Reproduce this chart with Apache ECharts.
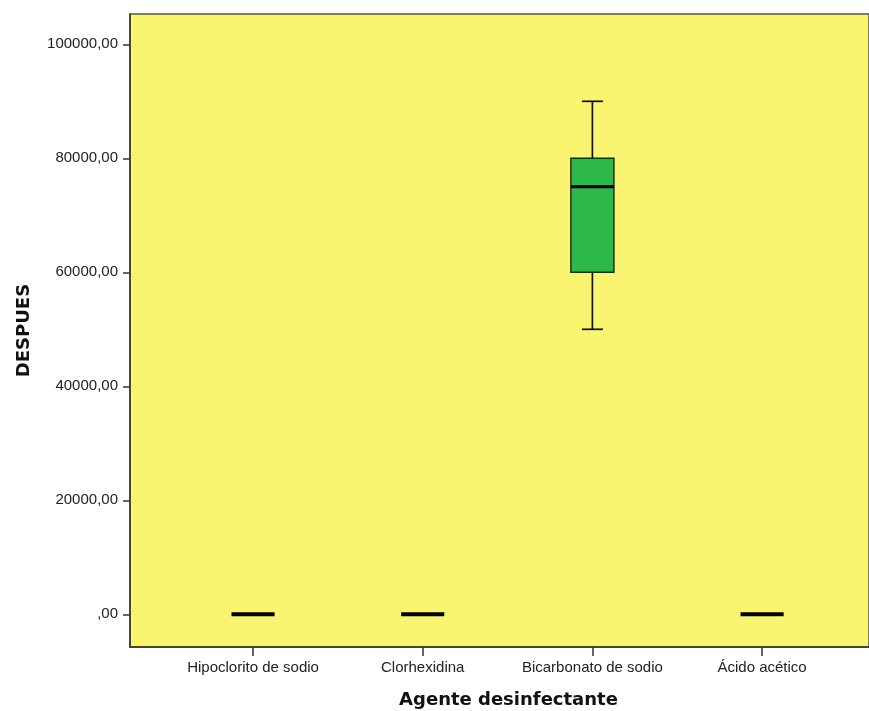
<!DOCTYPE html>
<html>
<head>
<meta charset="utf-8">
<script src="https://cdn.jsdelivr.net/npm/echarts@6/dist/echarts.min.js"></script>
<style>html,body{margin:0;padding:0;background:#fff}#c{width:869px;height:711px}</style>
</head>
<body>
<div id="c"></div>
<script>
// Categories (x axis)
const categories = ['Hipoclorito de sodio', 'Clorhexidina', 'Bicarbonato de sodio', 'Ácido acético'];
// Box statistics per category
const lowWhisker  = [0, 0, 50000, 0];
const q1Values    = [0, 0, 60000, 0];
const medians     = [0, 0, 75000, 0];
const q3Values    = [0, 0, 80000, 0];
const highWhisker = [0, 0, 90000, 0];
// Y axis tick values
const yTicks = [0, 20000, 40000, 60000, 80000, 100000];

const boxData = categories.map((c, i) => [i, lowWhisker[i], q1Values[i], medians[i], q3Values[i], highWhisker[i]]);

function renderBox(params, api) {
  const x = api.value(0);
  const band = api.size([1, 0])[0];
  const boxHalf = band * 0.127;
  const capHalf = band * 0.062;
  const pLow = api.coord([x, api.value(1)]);
  const pQ1 = api.coord([x, api.value(2)]);
  const pMed = api.coord([x, api.value(3)]);
  const pQ3 = api.coord([x, api.value(4)]);
  const pHigh = api.coord([x, api.value(5)]);
  const cx = pMed[0];
  const lineStyle = { stroke: '#111', lineWidth: 1.7 };
  const children = [];
  if (pHigh[1] !== pQ3[1]) {
    children.push({ type: 'line', shape: { x1: cx, y1: pQ3[1], x2: cx, y2: pHigh[1] }, style: lineStyle });
    children.push({ type: 'line', shape: { x1: cx - capHalf, y1: pHigh[1], x2: cx + capHalf, y2: pHigh[1] }, style: lineStyle });
  }
  if (pLow[1] !== pQ1[1]) {
    children.push({ type: 'line', shape: { x1: cx, y1: pQ1[1], x2: cx, y2: pLow[1] }, style: lineStyle });
    children.push({ type: 'line', shape: { x1: cx - capHalf, y1: pLow[1], x2: cx + capHalf, y2: pLow[1] }, style: lineStyle });
  }
  if (pQ1[1] !== pQ3[1]) {
    children.push({ type: 'rect', shape: { x: cx - boxHalf, y: pQ3[1], width: boxHalf * 2, height: pQ1[1] - pQ3[1] },
      style: { fill: '#2db84a', stroke: '#1a2a1a', lineWidth: 1.4 } });
  }
  children.push({ type: 'line', shape: { x1: cx - boxHalf, y1: pMed[1], x2: cx + boxHalf, y2: pMed[1] },
    style: { stroke: '#000', lineWidth: pQ1[1] !== pQ3[1] ? 3 : 4 } });
  return { type: 'group', children };
}

const chart = echarts.init(document.getElementById('c'), null, { renderer: 'canvas' });
chart.setOption({
  animation: false,
  backgroundColor: '#ffffff',
  grid: {
    left: 130, right: 0, top: 14, bottom: 64,
    containLabel: false,
    outerBoundsMode: 'none',
    show: true, backgroundColor: '#f9f571', borderColor: '#555', borderWidth: 1.5
  },
  xAxis: {
    type: 'value',
    min: -0.725, max: 3.63,
    name: 'Agente desinfectante',
    nameLocation: 'middle',
    nameGap: 44,
    nameTextStyle: { fontFamily: 'DejaVu Sans', fontWeight: 'bold', fontSize: 18, color: '#111', padding: [0, 0, 0, 18] },
    splitLine: { show: false },
    axisLine: { show: true, onZero: false, lineStyle: { color: '#333', width: 1.5 } },
    axisTick: { show: true, length: 9, customValues: [0, 1, 2, 3], lineStyle: { color: '#333', width: 1.5 } },
    axisLabel: {
      customValues: [0, 1, 2, 3],
      formatter: v => categories[Math.round(v)] || '',
      fontFamily: 'Liberation Sans', fontSize: 15, color: '#222', margin: 13
    }
  },
  yAxis: {
    type: 'value',
    min: -5740, max: 105320,
    name: 'DESPUES',
    nameLocation: 'middle',
    nameGap: 97,
    nameRotate: 90,
    nameTextStyle: { fontFamily: 'DejaVu Sans', fontWeight: 'bold', fontSize: 18, color: '#111' },
    splitLine: { show: false },
    axisLine: { show: true, onZero: false, lineStyle: { color: '#333', width: 1.5 } },
    axisTick: { show: true, length: 7, customValues: yTicks, lineStyle: { color: '#333', width: 1.5 } },
    axisLabel: {
      customValues: yTicks,
      formatter: v => (v === 0 ? '' : String(v)) + ',00',
      fontFamily: 'Liberation Sans', fontSize: 15, color: '#222', margin: 12
    }
  },
  series: [{
    type: 'custom',
    renderItem: renderBox,
    encode: { x: 0, y: [1, 2, 3, 4, 5] },
    data: boxData,
    clip: true
  }]
});
</script>
</body>
</html>
